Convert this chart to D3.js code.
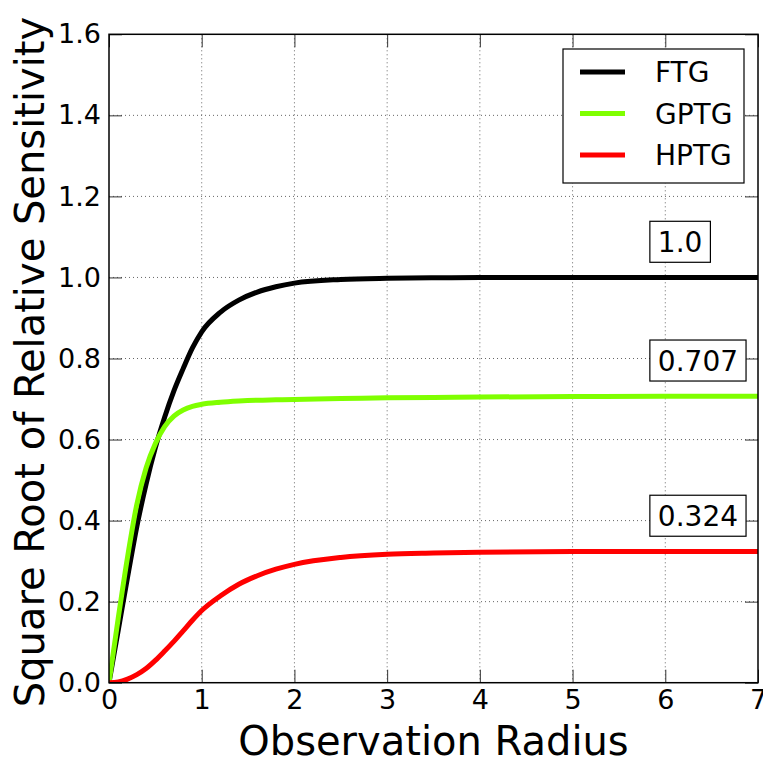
<!DOCTYPE html>
<html>
<head>
<meta charset="utf-8">
<script src="https://cdn.jsdelivr.net/npm/d3@7"></script>
<style>
  body { margin: 0; background: #fff; }
  text { font-family: "DejaVu Sans", sans-serif; fill: #000; }
</style>
</head>
<body>
<script>
// data
var radius = [0, 0.1, 0.2, 0.3, 0.4, 0.5, 0.6, 0.7, 0.8, 0.9, 1.0, 1.2, 1.4, 1.6, 1.8, 2.0, 2.5, 3.0, 3.5, 4.0, 5.0, 6.0, 7.0];
var ftg  = [0, 0.13, 0.26, 0.385, 0.49, 0.58, 0.655, 0.72, 0.775, 0.826, 0.866, 0.914, 0.944, 0.964, 0.977, 0.986, 0.995, 0.998, 0.999, 1.0, 1.0, 1.0, 1.0];
var gptg = [0, 0.16, 0.31, 0.44, 0.53, 0.59, 0.632, 0.658, 0.673, 0.682, 0.687, 0.692, 0.695, 0.697, 0.698, 0.699, 0.701, 0.703, 0.704, 0.705, 0.706, 0.707, 0.707];
var hptg = [0, 0.002, 0.009, 0.02, 0.035, 0.055, 0.078, 0.102, 0.128, 0.154, 0.178, 0.214, 0.243, 0.264, 0.28, 0.292, 0.309, 0.317, 0.32, 0.322, 0.3235, 0.324, 0.324];
var seriesNames = ["FTG", "GPTG", "HPTG"];
var seriesColors = ["#000000", "#7fff00", "#ff0000"];
var xTicks = [0, 1, 2, 3, 4, 5, 6, 7];
var yTicks = [0, 0.2, 0.4, 0.6, 0.8, 1.0, 1.2, 1.4, 1.6];
var noteValues = [1.0, 0.707, 0.324];
var noteLabels = ["1.0", "0.707", "0.324"];

function drawChart(){
  var width = 763, height = 762;
  var plotLeft = 109, plotRight = 758, plotTop = 34.3, plotBottom = 682.7;

  var svg = d3.select("body").append("svg")
    .attr("width", width)
    .attr("height", height);

  var x = d3.scaleLinear().domain([0, 7]).range([plotLeft, plotRight]);
  var y = d3.scaleLinear().domain([0, 1.6]).range([plotBottom, plotTop]);

  // grid
  var grid = svg.append("g");
  grid.selectAll("line.gx").data(xTicks.slice(1, -1)).enter().append("line")
    .attr("x1", function(d){ return x(d); }).attr("x2", function(d){ return x(d); })
    .attr("y1", plotTop).attr("y2", plotBottom)
    .attr("stroke", "#666").attr("stroke-width", 1).attr("stroke-dasharray", "1,3");
  grid.selectAll("line.gy").data(yTicks.slice(1, -1)).enter().append("line")
    .attr("y1", function(d){ return y(d); }).attr("y2", function(d){ return y(d); })
    .attr("x1", plotLeft).attr("x2", plotRight)
    .attr("stroke", "#666").attr("stroke-width", 1).attr("stroke-dasharray", "1,3");

  // axes (ticks inward on all sides)
  var tickLen = 13;
  function styleAxis(g){
    g.select(".domain").remove();
    g.selectAll(".tick line").attr("stroke", "#333").attr("stroke-width", 1);
    g.selectAll(".tick text").style("font-size", "27px").style("font-family", "DejaVu Sans").attr("fill", "#000");
  }
  svg.append("g").attr("transform", "translate(0," + plotBottom + ")")
    .call(d3.axisBottom(x).tickValues(xTicks).tickSizeInner(-tickLen).tickSizeOuter(0).tickPadding(7).tickFormat(d3.format("d")))
    .call(styleAxis);
  svg.append("g").attr("transform", "translate(0," + plotTop + ")")
    .call(d3.axisTop(x).tickValues(xTicks).tickSizeInner(-tickLen).tickSizeOuter(0).tickFormat(""))
    .call(styleAxis);
  svg.append("g").attr("transform", "translate(" + plotLeft + ",0)")
    .call(d3.axisLeft(y).tickValues(yTicks).tickSizeInner(-tickLen).tickSizeOuter(0).tickPadding(8).tickFormat(d3.format(".1f")))
    .call(styleAxis);
  svg.append("g").attr("transform", "translate(" + plotRight + ",0)")
    .call(d3.axisRight(y).tickValues(yTicks).tickSizeInner(-tickLen).tickSizeOuter(0).tickFormat(""))
    .call(styleAxis);

  // curves
  var allSeries = [ftg, gptg, hptg];
  var line = d3.line()
    .x(function(d, i){ return x(radius[i]); })
    .y(function(d){ return y(d); })
    .curve(d3.curveMonotoneX);

  svg.append("clipPath").attr("id", "plotclip").append("rect")
    .attr("x", plotLeft).attr("y", plotTop).attr("width", plotRight - plotLeft).attr("height", plotBottom - plotTop);

  svg.append("g").attr("clip-path", "url(#plotclip)")
    .selectAll("path").data(allSeries).enter().append("path")
    .attr("d", line)
    .attr("fill", "none")
    .attr("stroke", function(d, i){ return seriesColors[i]; })
    .attr("stroke-width", 5)
    .attr("stroke-linejoin", "round");

  // frame
  svg.append("rect")
    .attr("x", plotLeft).attr("y", plotTop).attr("width", plotRight - plotLeft).attr("height", plotBottom - plotTop)
    .attr("fill", "none").attr("stroke", "#000").attr("stroke-width", 1.5);

  // annotation boxes
  var notes = svg.append("g").selectAll("g").data(noteValues).enter().append("g")
    .attr("transform", function(d){ return "translate(" + x(5.92) + "," + y(d + 0.088) + ")"; });
  notes.append("text")
    .attr("dy", "0.36em")
    .style("font-size", "28px")
    .text(function(d, i){ return noteLabels[i]; });
  notes.each(function(){
    var g = d3.select(this);
    var bb = g.select("text").node().getBBox();
    g.insert("rect", "text")
      .attr("x", bb.x - 8).attr("y", -20.5)
      .attr("width", bb.width + 16).attr("height", 41)
      .attr("fill", "#fff").attr("stroke", "#000").attr("stroke-width", 1.2);
  });

  // legend
  var legend = svg.append("g");
  legend.append("rect")
    .attr("x", 563).attr("y", 49).attr("width", 181).attr("height", 134)
    .attr("fill", "#fff").attr("stroke", "#000").attr("stroke-width", 1.2);
  var items = legend.selectAll("g.item").data(seriesNames).enter().append("g")
    .attr("transform", function(d, i){ return "translate(580," + (72 + i * 41.5) + ")"; });
  items.append("line")
    .attr("x1", 0).attr("x2", 45)
    .attr("stroke", function(d, i){ return seriesColors[i]; })
    .attr("stroke-width", 5);
  items.append("text")
    .attr("x", 75).attr("dy", "0.36em")
    .style("font-size", "28px")
    .text(function(d){ return d; });

  // axis titles
  svg.append("text")
    .attr("x", (plotLeft + plotRight) / 2).attr("y", 755)
    .attr("text-anchor", "middle")
    .style("font-size", "40px")
    .text("Observation Radius");
  svg.append("text")
    .attr("transform", "translate(44,362) rotate(-90)")
    .attr("text-anchor", "middle")
    .style("font-size", "40px")
    .text("Square Root of Relative Sensitivity");
}

drawChart();
</script>
</body>
</html>
